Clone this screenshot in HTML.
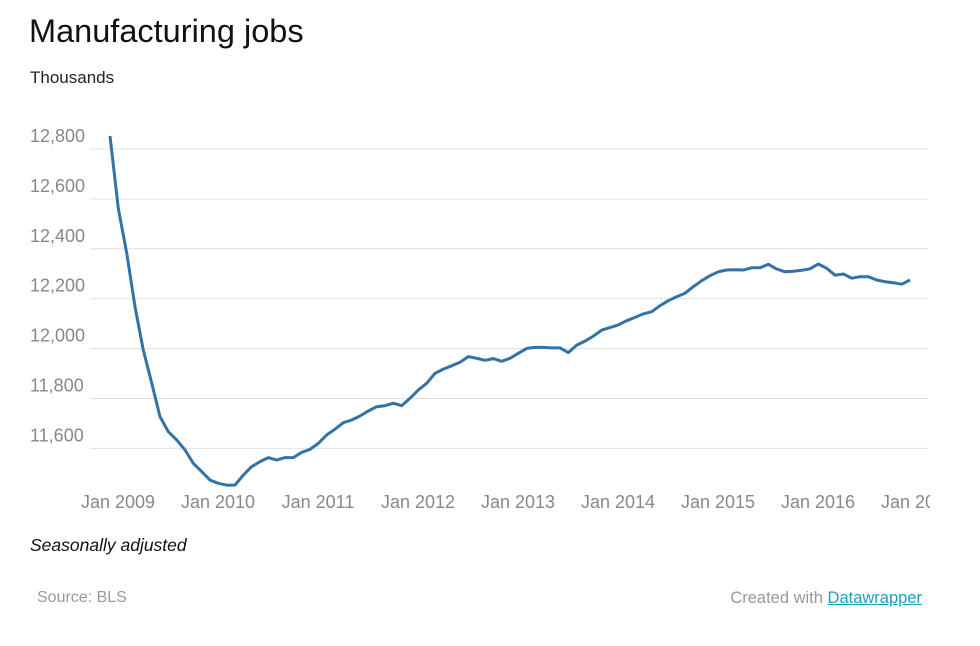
<!DOCTYPE html>
<html><head><meta charset="utf-8"><style>
body{margin:0;background:#fff;font-family:"Liberation Sans",Arial,sans-serif;}
#wrap{position:relative;width:980px;height:646px;overflow:hidden;}
.t{position:absolute;white-space:nowrap;}
</style></head><body>
<div id="wrap">
<div class="t" style="left:29px;top:13px;font-size:32.5px;color:#111;">Manufacturing jobs</div>
<div class="t" style="left:30px;top:68px;font-size:17px;color:#222;">Thousands</div>
<svg id="chart" width="980" height="646" style="position:absolute;left:0;top:0;"></svg>
<div class="t" style="left:30px;top:535px;font-size:17.5px;font-style:italic;color:#111;">Seasonally adjusted</div>
<div class="t" style="left:37px;top:589px;font-size:16px;color:#999;">Source: BLS</div>
<div class="t" style="right:58px;top:589px;font-size:16.5px;color:#999;">Created with <a href="#" style="color:#1a9fc0;">Datawrapper</a></div>
</div>
<script>
const yTicks=[12800,12600,12400,12200,12000,11800,11600];
const yTickLabels=["12,800","12,600","12,400","12,200","12,000","11,800","11,600"];
const xTickYears=[2009,2010,2011,2012,2013,2014,2015,2016,2017];
const xTickLabels=["Jan 2009","Jan 2010","Jan 2011","Jan 2012","Jan 2013","Jan 2014","Jan 2015","Jan 2016","Jan 2017"];
const startYear=2009;
const jobs=[12852,12562,12383,12168,11994,11862,11727,11667,11634,11594,11540,11507,11473,11460,11453,11453,11493,11527,11547,11563,11553,11563,11563,11584,11596,11620,11654,11677,11703,11714,11730,11750,11767,11771,11781,11771,11801,11834,11861,11901,11918,11931,11945,11968,11961,11953,11960,11949,11961,11981,12001,12005,12005,12003,12003,11984,12014,12030,12050,12074,12084,12095,12112,12125,12139,12148,12172,12192,12208,12222,12248,12272,12292,12308,12315,12316,12315,12324,12324,12338,12319,12308,12310,12314,12320,12339,12322,12294,12299,12282,12288,12288,12275,12268,12264,12258,12275];
const svg=document.getElementById('chart');
const NS='http://www.w3.org/2000/svg';
function xScale(monthIndex){return 110+monthIndex*(100/12);}
function yScale(v){return 149+(12800-v)*(49.9/200);}
yTicks.forEach((v,i)=>{
  const l=document.createElementNS(NS,'line');
  
  
  l.setAttribute('x1',90);l.setAttribute('x2',928);
  l.setAttribute('y1',yScale(v));l.setAttribute('y2',yScale(v));
  l.setAttribute('stroke','#e0e0e0');l.setAttribute('stroke-width','1');
  svg.appendChild(l);
  const t=document.createElementNS(NS,'text');
  
  
  t.setAttribute('x',30);t.setAttribute('y',yScale(v)-7);
  t.setAttribute('font-size','18');t.setAttribute('fill','#888');
  t.setAttribute('font-family','Liberation Sans, Arial, sans-serif');
  t.textContent=yTickLabels[i];
  svg.appendChild(t);
});
xTickYears.forEach((yr,i)=>{
  const t=document.createElementNS(NS,'text');
  
  
  t.setAttribute('x',xScale((yr-startYear)*12)+8);t.setAttribute('y',508);
  t.setAttribute('text-anchor','middle');
  t.setAttribute('font-size','18');t.setAttribute('fill','#888');
  t.setAttribute('font-family','Liberation Sans, Arial, sans-serif');
  t.textContent=xTickLabels[i];
  svg.appendChild(t);
});
const cover=document.createElementNS(NS,'rect');


cover.setAttribute('x',930);cover.setAttribute('y',480);cover.setAttribute('width',50);cover.setAttribute('height',40);cover.setAttribute('fill','#fff');
svg.appendChild(cover);
const p=document.createElementNS(NS,'path');


p.setAttribute('d',jobs.map((v,i)=>(i?'L':'M')+xScale(i).toFixed(1)+','+yScale(v).toFixed(1)).join(''));
p.setAttribute('fill','none');p.setAttribute('stroke','#3272a6');p.setAttribute('stroke-width','3');p.setAttribute('stroke-linejoin','round');
svg.appendChild(p);
</script>
</body></html>
